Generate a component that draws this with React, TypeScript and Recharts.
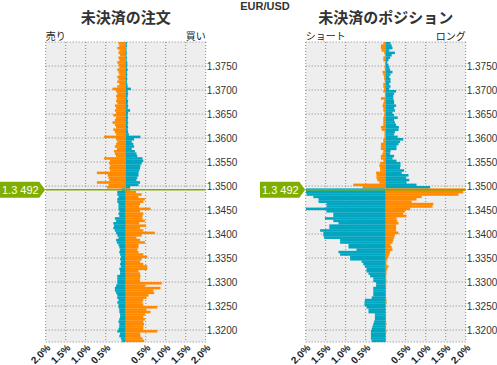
import React from 'react';
import { BarChart, Bar, XAxis, YAxis, CartesianGrid, ReferenceLine, Cell } from 'recharts';

const ORANGE = '#ff8a00';
const TEAL = '#00a5c0';
const GREEN = '#80ae00';
const FONT = '"Liberation Sans", Arial, sans-serif';
const JP_FONT = '"Noto Sans CJK JP", sans-serif';

const currentPrice = 1.3492;
const currentPriceLabel = '1.3 492';

// bucket low prices, 0.0005 wide, top to bottom
const bucketPrices = Array.from({ length: 125 }, (_, i) => +(1.3795 - i * 0.0005).toFixed(4));
const priceTicks = [1.32, 1.325, 1.33, 1.335, 1.34, 1.345, 1.35, 1.355, 1.36, 1.365, 1.37, 1.375];
const pctTicks = [-2, -1.5, -1, -0.5, 0, 0.5, 1, 1.5, 2];

// 未決済の注文 (%): sell side / buy side
const orderSell = [
  0.18, 0.16, 0.21, 0.16, 0.18, 0.14, 0.18, 0.16, 0.21, 0.18,
  0.16, 0.21, 0.18, 0.16, 0.21, 0.18, 0.21, 0.16, 0.21, 0.33,
  0.24, 0.21, 0.24, 0.22, 0.24, 0.21, 0.27, 0.24, 0.27, 0.24,
  0.31, 0.24, 0.27, 0.33, 0.27, 0.24, 0.31, 0.27, 0.24, 0.54,
  0.24, 0.21, 0.24, 0.27, 0.22, 0.29, 0.27, 0.24, 0.54, 0.39,
  0.42, 0.39, 0.41, 0.39, 0.72, 0.45, 0.43, 0.41, 0.72, 0.43,
  0.47, 0.10, 0.21, 0.21, 0.18, 0.21, 0.21, 0.18, 0.18, 0.18,
  0.16, 0.18, 0.16, 0.27, 0.24, 0.31, 0.29, 0.31, 0.27, 0.24,
  0.21, 0.18, 0.24, 0.22, 0.18, 0.16, 0.14, 0.16, 0.14, 0.12,
  0.14, 0.12, 0.14, 0.12, 0.16, 0.14, 0.14, 0.21, 0.21, 0.21,
  0.21, 0.24, 0.27, 0.27, 0.24, 0.21, 0.21, 0.18, 0.21, 0.18,
  0.18, 0.16, 0.16, 0.14, 0.14, 0.16, 0.18, 0.16, 0.16, 0.18,
  0.21, 0.14, 0.16, 0.12, 0.10,
];
const orderBuy = [
  0.03, 0.03, 0.02, 0.02, 0.03, 0.02, 0.03, 0.02, 0.04, 0.04,
  0.03, 0.05, 0.03, 0.04, 0.03, 0.04, 0.03, 0.04, 0.05, 0.13,
  0.05, 0.06, 0.05, 0.04, 0.06, 0.05, 0.06, 0.05, 0.11, 0.06,
  0.05, 0.06, 0.05, 0.06, 0.05, 0.06, 0.05, 0.06, 0.08, 0.37,
  0.21, 0.15, 0.19, 0.21, 0.15, 0.23, 0.27, 0.29, 0.42, 0.44,
  0.40, 0.37, 0.36, 0.34, 0.32, 0.32, 0.29, 0.27, 0.36, 0.32,
  0.11, 0.11, 0.26, 0.40, 0.32, 0.48, 0.44, 0.36, 0.34, 0.62,
  0.36, 0.44, 0.42, 0.42, 0.48, 0.34, 0.51, 0.36, 0.44, 0.73,
  0.40, 0.27, 0.36, 0.48, 0.32, 0.32, 0.29, 0.32, 0.44, 0.54,
  0.40, 0.36, 0.44, 0.54, 0.54, 0.32, 0.36, 0.37, 0.36, 0.36,
  0.90, 0.48, 0.87, 0.69, 0.71, 0.57, 0.52, 0.44, 0.42, 0.44,
  0.79, 0.52, 0.62, 0.48, 0.44, 0.48, 0.44, 0.46, 0.44, 0.44,
  0.79, 0.36, 0.37, 0.42, 0.46,
];

// 未決済のポジション (%): short / long
const posShort = [
  0.06, 0.12, 0.12, 0.10, 0.04, 0.02, 0.06, 0.06, 0.02, 0.02,
  0.03, 0.02, 0.08, 0.06, 0.04, 0.04, 0.02, 0.06, 0.06, 0.04,
  0.06, 0.02, 0.02, 0.12, 0.04, 0.06, 0.08, 0.06, 0.06, 0.03,
  0.04, 0.06, 0.06, 0.06, 0.06, 0.12, 0.10, 0.03, 0.03, 0.03,
  0.06, 0.06, 0.12, 0.12, 0.12, 0.06, 0.08, 0.12, 0.12, 0.06,
  0.14, 0.16, 0.14, 0.14, 0.24, 0.23, 0.23, 0.21, 0.16, 0.81,
  0.58, 2.05, 2.02, 1.98, 1.81, 1.68, 1.68, 1.48, 1.48, 2.01,
  1.48, 1.31, 1.31, 1.52, 1.31, 1.18, 1.41, 1.41, 1.64, 1.56,
  1.56, 1.54, 1.14, 1.14, 0.93, 0.93, 0.73, 1.18, 1.14, 0.89,
  0.89, 0.60, 0.56, 0.52, 0.48, 0.48, 0.43, 0.39, 0.31, 0.31,
  0.24, 0.24, 0.31, 0.31, 0.31, 0.31, 0.35, 0.52, 0.53, 0.53,
  0.48, 0.43, 0.43, 0.27, 0.27, 0.27, 0.29, 0.31, 0.33, 0.35,
  0.37, 0.37, 0.37, 0.37, 0.35,
];
const posLong = [
  0.12, 0.15, 0.17, 0.09, 0.23, 0.15, 0.11, 0.07, 0.04, 0.07,
  0.09, 0.11, 0.17, 0.12, 0.09, 0.12, 0.12, 0.09, 0.12, 0.09,
  0.26, 0.21, 0.19, 0.19, 0.21, 0.21, 0.26, 0.21, 0.23, 0.17,
  0.21, 0.30, 0.21, 0.23, 0.26, 0.33, 0.32, 0.23, 0.21, 0.30,
  0.44, 0.36, 0.32, 0.27, 0.27, 0.12, 0.11, 0.21, 0.17, 0.27,
  0.37, 0.37, 0.36, 0.46, 0.40, 0.57, 0.51, 0.59, 0.52, 0.77,
  1.11, 2.05, 1.94, 1.82, 0.90, 0.77, 0.65, 1.19, 1.17, 0.61,
  0.48, 0.44, 0.52, 0.27, 0.29, 0.32, 0.26, 0.26, 0.26, 0.32,
  0.23, 0.21, 0.19, 0.17, 0.12, 0.15, 0.17, 0.11, 0.09, 0.07,
  0.04, 0.02, 0.02, 0.07, 0.04, 0.02, 0.02, 0.01, 0.01, 0.02,
  0.01, 0.01, 0, 0, 0, 0, 0, 0.02, 0.02, 0,
  0, 0, 0, 0, 0, 0, 0, 0.02, 0, 0,
  0.02, 0, 0, 0, 0,
];

const PLOT_L = 45.7;
const PLOT_R = 205.7;
const PLOT_B = 342;
const BAND = 300 / 125;

const buildRows = (left: number[], right: number[]) =>
  bucketPrices.map((p, i) => ({
    bucket: p.toFixed(4),
    price: p,
    left: -left[i],
    right: right[i],
    above: p >= 1.3495,
  }));

// solid bar filling the whole price bucket (no seams between buckets)
const BucketBar = (props: any) => {
  const { x, y, width, height, fill } = props;
  if (!width || !height) return null;
  const x0 = Math.min(x, x + width);
  const w = Math.abs(width);
  const y0 = Math.min(y, y + height);
  return <rect x={x0} y={y0} width={w} height={BAND + 0.15} fill={fill} />;
};

const PctTick = (props: any) => {
  const { x, payload } = props;
  if (payload.value === 0) return null;
  const tx = x + 3;
  const ty = PLOT_B + 4;
  return (
    <text
      x={tx}
      y={ty}
      transform={`rotate(-45 ${tx} ${ty})`}
      textAnchor="end"
      dominantBaseline="central"
      fontSize={10}
      fontWeight="bold"
      fill="#222"
      fontFamily={FONT}
    >
      {Math.abs(payload.value).toFixed(1)}%
    </text>
  );
};

const PriceTick = (props: any) => {
  const { y, payload } = props;
  return (
    <text x={PLOT_R + 1} y={y} dominantBaseline="central" fontSize={10} fill="#333" fontFamily={FONT}>
      {payload.value.toFixed(4)}
    </text>
  );
};

const PriceBadge = (props: any) => {
  const { x, y } = props.viewBox;
  const left = x - PLOT_L;
  return (
    <g>
      <polygon
        points={`${left},${y - 8} ${x - 6.4},${y - 8} ${x - 0.5},${y} ${x - 6.4},${y + 8} ${left},${y + 8}`}
        fill={GREEN}
      />
      <text x={left + 2} y={y + 0.5} dominantBaseline="central" fontSize={11} fill="#fff" fontFamily={FONT}>
        {currentPriceLabel}
      </text>
    </g>
  );
};

const Panel = ({ rows, title, leftLabel, rightLabel, offset }: any) => (
  <div style={{ position: 'absolute', left: offset, top: 0, width: 250, height: 365 }}>
    <div style={{ position: 'absolute', left: PLOT_L, width: 160, top: 7, textAlign: 'center', fontFamily: JP_FONT, fontWeight: 'bold', fontSize: 15, lineHeight: '20px', color: '#333' }}>
      {title}
    </div>
    <div style={{ position: 'absolute', left: PLOT_L, top: 29, fontFamily: JP_FONT, fontSize: 10, lineHeight: '14px', color: '#222' }}>
      {leftLabel}
    </div>
    <div style={{ position: 'absolute', left: PLOT_L, width: 160, top: 29, textAlign: 'right', fontFamily: JP_FONT, fontSize: 10, lineHeight: '14px', color: '#222' }}>
      {rightLabel}
    </div>
    <BarChart
      width={250}
      height={365}
      data={rows}
      layout="vertical"
      stackOffset="sign"
      barCategoryGap={0}
      margin={{ top: 42, right: 0.3, bottom: 0, left: PLOT_L }}
    >
      <CartesianGrid yAxisId="price" stroke="#888" strokeDasharray="1 2" fill="#eeeeee" />
      <XAxis
        type="number"
        domain={[-2, 2]}
        ticks={pctTicks}
        allowDataOverflow
        axisLine={false}
        tickLine={false}
        height={23}
        interval={0}
        tick={<PctTick />}
      />
      <YAxis yAxisId="cat" type="category" dataKey="bucket" hide />
      <YAxis
        yAxisId="price"
        type="number"
        dataKey="price"
        orientation="right"
        reversed
        domain={[1.3175, 1.38]}
        ticks={priceTicks}
        allowDataOverflow
        width={44}
        axisLine={false}
        tickLine={false}
        interval={0}
        tick={<PriceTick />}
      />
      <Bar yAxisId="cat" dataKey="left" stackId="s" isAnimationActive={false} shape={<BucketBar />}>
        {rows.map((r: any, i: number) => (
          <Cell key={`l-${i}`} fill={r.above ? ORANGE : TEAL} />
        ))}
      </Bar>
      <Bar yAxisId="cat" dataKey="right" stackId="s" isAnimationActive={false} shape={<BucketBar />}>
        {rows.map((r: any, i: number) => (
          <Cell key={`r-${i}`} fill={r.above ? TEAL : ORANGE} />
        ))}
      </Bar>
      <ReferenceLine yAxisId="price" y={currentPrice} stroke={GREEN} strokeWidth={1.5} label={<PriceBadge />} />
    </BarChart>
  </div>
);

const App = () => {
  const orderRows = buildRows(orderSell, orderBuy);
  const posRows = buildRows(posShort, posLong);
  return (
    <div style={{ position: 'absolute', left: 0, top: 0, width: 497, height: 365, overflow: 'hidden', background: '#fff' }}>
      <div style={{ position: 'absolute', left: 215, width: 100, top: 0, textAlign: 'center', fontFamily: FONT, fontWeight: 'bold', fontSize: 11, lineHeight: '13px', color: '#333' }}>
        EUR/USD
      </div>
      <Panel rows={orderRows} title="未決済の注文" leftLabel="売り" rightLabel="買い" offset={0} />
      <Panel rows={posRows} title="未決済のポジション" leftLabel="ショート" rightLabel="ロング" offset={260} />
    </div>
  );
};

export default App;
